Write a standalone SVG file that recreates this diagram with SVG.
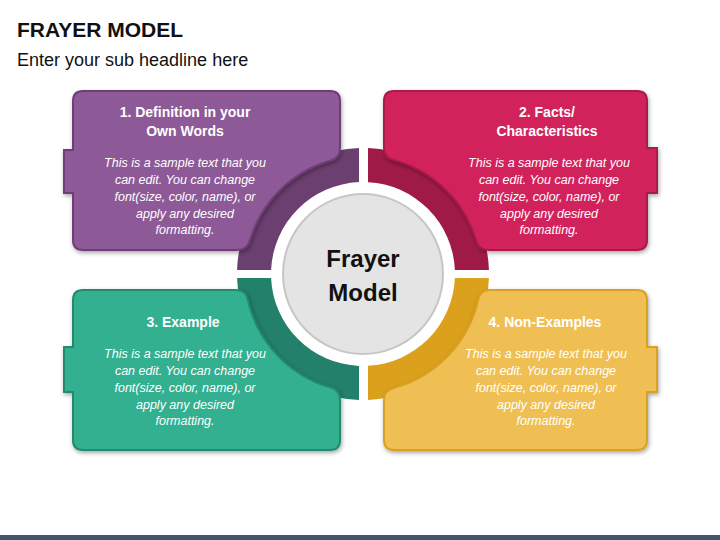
<svg xmlns="http://www.w3.org/2000/svg" width="720" height="540" viewBox="0 0 720 540">
<defs>
<filter id="sh" x="-10%" y="-10%" width="125%" height="130%">
<feDropShadow dx="1" dy="2" stdDeviation="2" flood-color="#000" flood-opacity="0.35"/>
</filter>
<style>
.t{font-family:"Liberation Sans",Arial,sans-serif;font-weight:bold;font-size:14px;fill:#fff;text-anchor:middle}
.b{font-family:"Liberation Sans",Arial,sans-serif;font-style:italic;font-size:12.5px;fill:#fff;text-anchor:middle}
.box{stroke-width:2;filter:url(#sh)}
</style>
</defs>
<rect width="720" height="540" fill="#fff"/>
<text x="17" y="37" font-family="Liberation Sans,Arial,sans-serif" font-weight="bold" font-size="21" fill="#111">FRAYER MODEL</text>
<text x="17" y="66" font-family="Liberation Sans,Arial,sans-serif" font-size="18" fill="#111">Enter your sub headline here</text>
<rect x="0" y="535" width="720" height="5" fill="#44546a"/>

<g id="connectors">
<path d="M359 148.06 A126 126 0 0 0 237.06 270 H271.09 A92 92 0 0 1 359 182.09 Z" fill="#6b3f6f"/>
<path d="M368 148.1 A126 126 0 0 1 488.94 270 H454.91 A92 92 0 0 0 368 182.14 Z" fill="#a01a48"/>
<path d="M359 399.94 A126 126 0 0 1 237.06 278 H271.09 A92 92 0 0 0 359 365.91 Z" fill="#23806a"/>
<path d="M368 399.9 A126 126 0 0 0 488.94 278 H454.91 A92 92 0 0 1 368 365.86 Z" fill="#dba11c"/>
</g>

<g id="center">
<circle cx="363" cy="274" r="80" fill="#e4e4e4" stroke="#c6c6c6" stroke-width="2"/>
<text x="363" y="267" font-family="Liberation Sans,Arial,sans-serif" font-weight="bold" font-size="24" fill="#111" text-anchor="middle">Frayer</text>
<text x="363" y="301" font-family="Liberation Sans,Arial,sans-serif" font-weight="bold" font-size="24" fill="#111" text-anchor="middle">Model</text>
</g>

<g id="box1">
<path class="box" fill="#8d5a97" stroke="#6f3e78" d="M83 91 H330 Q340 91 340 101 V148 Q340 158.3 330 160.7 A118 118 0 0 0 250 240 Q247.5 250 237 250 H83 Q73 250 73 240 V193 H64 V150 H73 V101 Q73 91 83 91 Z"/>
<text class="t" x="185" y="117">1. Definition in your</text>
<text class="t" x="185" y="136">Own Words</text>
<text class="b" x="185" y="167">This is a sample text that you</text>
<text class="b" x="185" y="184">can edit. You can change</text>
<text class="b" x="185" y="201">font(size, color, name), or</text>
<text class="b" x="185" y="218">apply any desired</text>
<text class="b" x="185" y="234">formatting.</text>
</g>

<g id="box2">
<path class="box" fill="#d2235b" stroke="#a81a48" d="M394 91 H637 Q647 91 647 101 V148 H657 V193 H647 V240 Q647 250 637 250 H489 Q478.5 250 476 240 A118 118 0 0 0 394 160.1 Q384 157.9 384 148 V101 Q384 91 394 91 Z"/>
<text class="t" x="547" y="117">2. Facts/</text>
<text class="t" x="547" y="136">Characteristics</text>
<text class="b" x="549" y="167">This is a sample text that you</text>
<text class="b" x="549" y="184">can edit. You can change</text>
<text class="b" x="549" y="201">font(size, color, name), or</text>
<text class="b" x="549" y="218">apply any desired</text>
<text class="b" x="549" y="234">formatting.</text>
</g>

<g id="box3">
<path class="box" fill="#31b08f" stroke="#248a6e" d="M83 290 H236 Q246.1 290 247.9 300 A118 118 0 0 0 330 387.3 Q340 389.7 340 400 V440 Q340 450 330 450 H83 Q73 450 73 440 V392 H64 V347 H73 V300 Q73 290 83 290 Z"/>
<text class="t" x="183" y="327">3. Example</text>
<text class="b" x="185" y="358">This is a sample text that you</text>
<text class="b" x="185" y="375">can edit. You can change</text>
<text class="b" x="185" y="392">font(size, color, name), or</text>
<text class="b" x="185" y="409">apply any desired</text>
<text class="b" x="185" y="425">formatting.</text>
</g>

<g id="box4">
<path class="box" fill="#efbf53" stroke="#d9a020" d="M384 400 V440 Q384 450 394 450 H637 Q647 450 647 440 V392 H657 V347 H647 V300 Q647 290 637 290 H490 Q479.9 290 478.1 300 A118 118 0 0 1 394 387.9 Q384 390.1 384 400 Z"/>
<text class="t" x="545" y="327">4. Non-Examples</text>
<text class="b" x="546" y="358">This is a sample text that you</text>
<text class="b" x="546" y="375">can edit. You can change</text>
<text class="b" x="546" y="392">font(size, color, name), or</text>
<text class="b" x="546" y="409">apply any desired</text>
<text class="b" x="546" y="425">formatting.</text>
</g>
</svg>
